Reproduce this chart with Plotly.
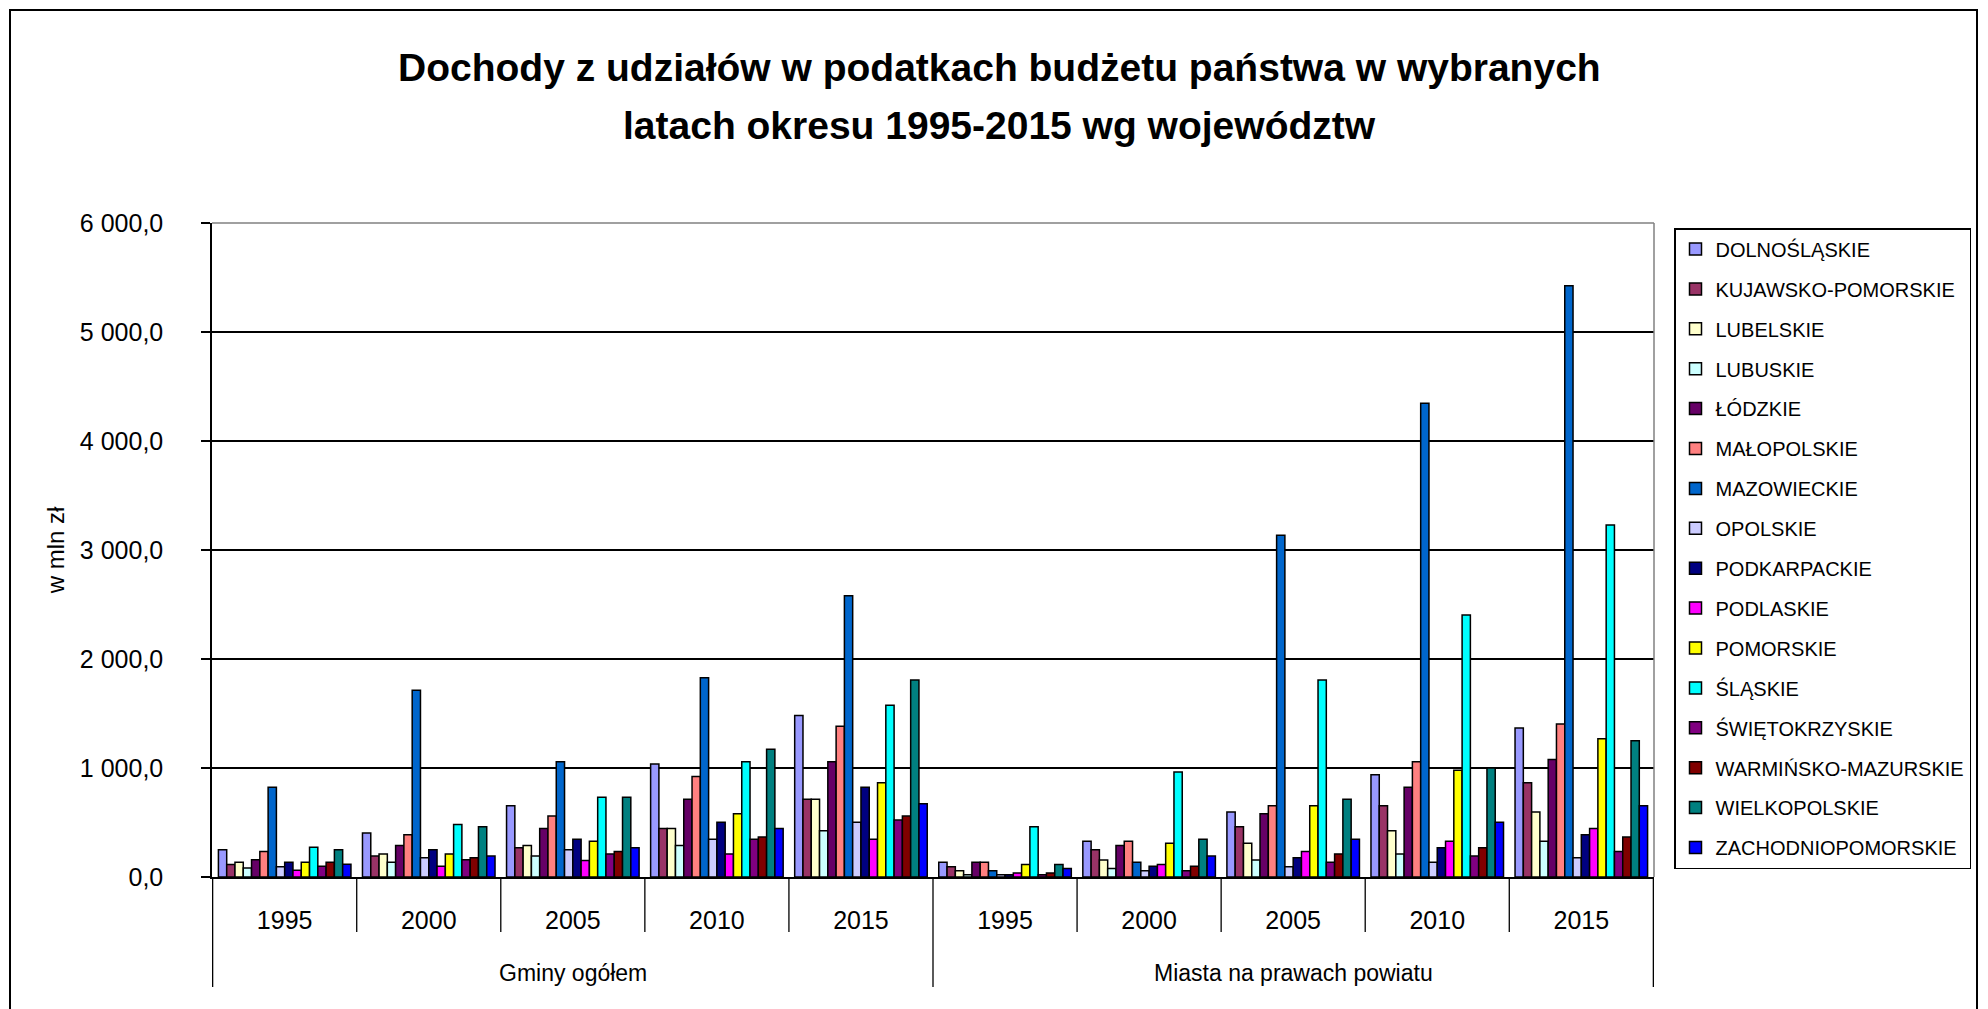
import plotly.graph_objects as go

# kategorie osi X
groups = ["Gminy ogółem", "Miasta na prawach powiatu"]
years = ["1995", "2000", "2005", "2010", "2015"]

regions = [
    "DOLNOŚLĄSKIE", "KUJAWSKO-POMORSKIE", "LUBELSKIE", "LUBUSKIE", "ŁÓDZKIE",
    "MAŁOPOLSKIE", "MAZOWIECKIE", "OPOLSKIE", "PODKARPACKIE", "PODLASKIE",
    "POMORSKIE", "ŚLĄSKIE", "ŚWIĘTOKRZYSKIE", "WARMIŃSKO-MAZURSKIE",
    "WIELKOPOLSKIE", "ZACHODNIOPOMORSKIE",
]

colors = [
    "#9999FF", "#993366", "#FFFFCC", "#CCFFFF", "#660066",
    "#FF8080", "#0066CC", "#CCCCFF", "#000080", "#FF00FF",
    "#FFFF00", "#00FFFF", "#800080", "#800000",
    "#008080", "#0000FF",
]

# w mln zł: gminy 1995..2015, potem miasta na prawach powiatu 1995..2015
dolnoslaskie = [249, 404, 653, 1037, 1482, 135, 327, 596, 939, 1367]
kujawsko_pomorskie = [114, 192, 269, 445, 714, 94, 249, 461, 653, 865]
lubelskie = [135, 212, 290, 445, 714, 57, 155, 310, 424, 596]
lubuskie = [82, 135, 192, 290, 424, 20, 78, 155, 212, 327]
lodzkie = [159, 290, 445, 714, 1057, 135, 290, 580, 824, 1078]
malopolskie = [233, 388, 559, 922, 1384, 135, 327, 653, 1057, 1404]
mazowieckie = [824, 1714, 1057, 1829, 2580, 57, 135, 3135, 4347, 5424]
opolskie = [94, 176, 249, 347, 502, 20, 57, 94, 135, 176]
podkarpackie = [135, 249, 347, 502, 824, 20, 98, 176, 269, 388]
podlaskie = [61, 98, 151, 212, 347, 37, 114, 233, 327, 445]
pomorskie = [135, 212, 327, 580, 865, 114, 310, 653, 980, 1269]
slaskie = [273, 482, 731, 1057, 1576, 461, 963, 1808, 2404, 3229]
swietokrzyskie = [98, 159, 212, 347, 522, 20, 57, 135, 192, 233]
warminsko_mazurskie = [135, 176, 233, 367, 559, 37, 98, 212, 269, 367]
wielkopolskie = [249, 461, 731, 1171, 1808, 114, 347, 714, 1000, 1249]
zachodniopomorskie = [118, 192, 269, 445, 673, 78, 192, 347, 502, 653]

values = [
    dolnoslaskie, kujawsko_pomorskie, lubelskie, lubuskie, lodzkie,
    malopolskie, mazowieckie, opolskie, podkarpackie, podlaskie,
    pomorskie, slaskie, swietokrzyskie, warminsko_mazurskie,
    wielkopolskie, zachodniopomorskie,
]

FONT = "Liberation Sans, Arial, sans-serif"

# jedna kategoria na pare (grupa, rok)
cats = [g + " " + y for g in groups for y in years]
tick_years = [y for g in groups for y in years]

fig = go.Figure()

for name, color, vals in zip(regions, colors, values):
    fig.add_trace(
        go.Bar(
            x=cats,
            y=vals,
            name=name,
            legendgroup=name,
            marker=dict(color=color, line=dict(color="black", width=1.5)),
        )
    )

# figure px (page has an 8px body margin): plot area 204..1646 x 215..869
W, HT = 1980, 1001
L, R, T, B = 204, 1646, 215, 869
PW = float(R - L)
PH = float(B - T)
n = len(cats)
per_group = len(years)

shapes = []
# krotkie kreski miedzy latami
for i in range(1, n):
    if i % per_group == 0:
        continue
    shapes.append(dict(type="line", xref="x", yref="paper", x0=i - 0.5, x1=i - 0.5,
                       y0=0, y1=-55 / PH, line=dict(color="black", width=1.3)))
# dlugie kreski miedzy grupami
for i in range(0, n + 1, per_group):
    shapes.append(dict(type="line", xref="x", yref="paper", x0=i - 0.5, x1=i - 0.5,
                       y0=0, y1=-110 / PH, line=dict(color="black", width=1.3)))
# gorna i prawa ramka obszaru wykresu (szara)
shapes.append(dict(type="line", xref="paper", yref="paper", x0=0, x1=1, y0=1, y1=1,
                   line=dict(color="#808080", width=1.5)))
shapes.append(dict(type="line", xref="paper", yref="paper", x0=1, x1=1, y0=0, y1=1,
                   line=dict(color="#808080", width=1.5)))
# ramka calego wykresu
shapes.append(dict(type="rect", xref="paper", yref="paper",
                   x0=(2 - L) / PW, x1=(1969 - L) / PW,
                   y0=-(1020 - B) / PH, y1=(B - 2) / PH,
                   line=dict(color="black", width=2)))

annotations = []
for gi, g in enumerate(groups):
    annotations.append(dict(
        text=g, xref="x", yref="paper",
        x=gi * per_group + (per_group - 1) / 2, y=-96 / PH,
        showarrow=False, yanchor="middle",
        font=dict(family=FONT, size=23, color="black"),
    ))

annotations.append(dict(
    text="<b>Dochody z udziałów w podatkach budżetu państwa w wybranych</b>",
    xref="paper", yref="paper", x=0.546, y=(B - 59) / PH,
    showarrow=False, yanchor="middle",
    font=dict(family=FONT, size=39, color="black"),
))
annotations.append(dict(
    text="<b>latach okresu 1995-2015 wg województw</b>",
    xref="paper", yref="paper", x=0.546, y=(B - 117) / PH,
    showarrow=False, yanchor="middle",
    font=dict(family=FONT, size=39, color="black"),
))

fig.update_layout(
    width=W,
    height=HT,
    margin=dict(l=L, r=W - R, t=T, b=HT - B, autoexpand=False),
    paper_bgcolor="white",
    plot_bgcolor="white",
    separators=", ",
    barmode="group",
    bargap=0.08,
    bargroupgap=0,
    font=dict(family=FONT, color="black"),
    showlegend=True,
    legend=dict(
        x=(1666 - L) / PW,
        y=(B - 220) / PH,
        xanchor="left",
        yanchor="top",
        traceorder="grouped",
        tracegroupgap=10.9,
        bordercolor="black",
        borderwidth=1.5,
        bgcolor="white",
        font=dict(family=FONT, size=20, color="black"),
    ),
    xaxis=dict(
        type="category",
        tickmode="array",
        tickvals=cats,
        ticktext=tick_years,
        ticks="",
        showline=True,
        linecolor="black",
        linewidth=1.5,
        showgrid=False,
        ticklabelstandoff=20,
        tickfont=dict(family=FONT, size=25, color="black"),
    ),
    yaxis=dict(
        range=[0, 6000],
        dtick=1000,
        tickformat=",.1f",
        ticks="outside",
        ticklen=9,
        tickcolor="black",
        tickwidth=1.5,
        showline=True,
        linecolor="black",
        linewidth=1.5,
        showgrid=True,
        gridcolor="black",
        gridwidth=1.5,
        zeroline=False,
        ticklabelstandoff=33,
        tickfont=dict(family=FONT, size=25, color="black"),
        title=dict(text="w mln zł", standoff=8,
                   font=dict(family=FONT, size=24, color="black")),
    ),
    shapes=shapes,
    annotations=annotations,
)

fig.write_html("out.html")
